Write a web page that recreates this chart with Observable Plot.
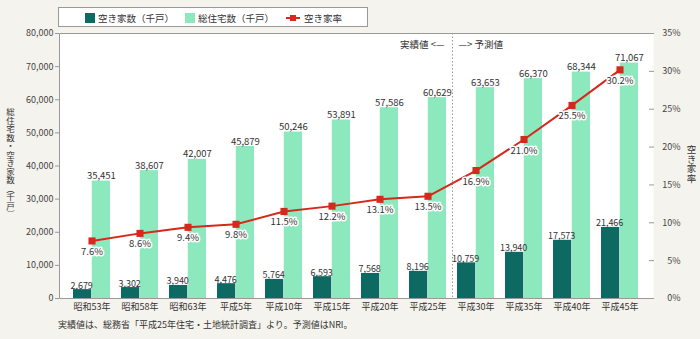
<!DOCTYPE html>
<html>
<head>
<meta charset="utf-8">
<script src="https://cdn.jsdelivr.net/npm/d3@7"></script>
<script src="https://cdn.jsdelivr.net/npm/@observablehq/plot@0.6"></script>
<style>
  html, body { margin: 0; padding: 0; background: #f5f3ed; }
  #wrap { position: relative; width: 700px; height: 339px; background: #f5f3ed; font-family: "Noto Sans CJK JP", sans-serif; color: #333; overflow: hidden; }
  #chart { position: absolute; left: 0; top: 0; }
  #legend { position: absolute; left: 58px; top: 7px; width: 310px; height: 20px; background: #fff; border: 1px solid #999; box-sizing: border-box; font-size: 9.5px; }
  .li { position: absolute; top: 3px; display: flex; align-items: center; height: 13px; white-space: nowrap; }
  .sw { width: 10px; height: 10px; margin-right: 3px; }
  .ln { position: relative; width: 14px; height: 10px; margin-right: 4px; }
  .ln .bar { position: absolute; left: 0; top: 4px; width: 14px; height: 2px; background: #d6281b; }
  .ln .sq { position: absolute; left: 4px; top: 2px; width: 6px; height: 6px; background: #d6281b; }
  .vlab { position: absolute; writing-mode: vertical-rl; text-orientation: mixed; white-space: nowrap; color: #333; line-height: 1; }
  #caption { position: absolute; left: 58px; top: 318px; font-size: 9px; white-space: nowrap; color: #333; }
</style>
</head>
<body>
<div id="wrap">
  <div id="chart"></div>
  <div id="legend"></div>
  <div class="vlab" id="ylabL" style="left:6px; top:108px; font-size:8.5px;"></div>
  <div class="vlab" id="ylabR" style="left:686px; top:145px; font-size:9.5px;"></div>
  <div id="caption"></div>
</div>
<script>
// ---- data ----
const years = ["昭和53年","昭和58年","昭和63年","平成5年","平成10年","平成15年","平成20年","平成25年","平成30年","平成35年","平成40年","平成45年"];
const vacant = [2679, 3302, 3940, 4476, 5764, 6593, 7568, 8196, 10759, 13940, 17573, 21466];
const total = [35451, 38607, 42007, 45879, 50246, 53891, 57586, 60629, 63653, 66370, 68344, 71067];
const rate = [7.6, 8.6, 9.4, 9.8, 11.5, 12.2, 13.1, 13.5, 16.9, 21.0, 25.5, 30.2];
const leftTicks = [0, 10000, 20000, 30000, 40000, 50000, 60000, 70000, 80000];
const rateTicks = [0, 5, 10, 15, 20, 25, 30, 35];
const seriesNames = ["空き家数（千戸）", "総住宅数（千戸）", "空き家率"];
const leftTitle = "総住宅数・空き家数（千戸）";
const rightTitle = "空き家率";
const actualText = "実績値 <—";
const forecastText = "—> 予測値";
const lastActual = "平成25年";
const firstForecast = "平成30年";
const captionText = "実績値は、総務省「平成25年住宅・土地統計調査」より。予測値はNRI。";

// ---- styles ----
const DARK = "#0c6a62", LIGHT = "#8ce8bd", RED = "#d6281b", AXIS = "#999";
const FONT = "Noto Sans CJK JP";
const yMax = 80000, rMax = 35;
const toY = r => r * yMax / rMax;

const rows = years.map((y, i) => ({year: y, vacant: vacant[i], total: total[i], rate: rate[i]}));

const W = 700, H = 339, mL = 59, mR = 47, mT = 33, mB = 41;
const pIn = 0.222, pOut = 0.27;
const step = (W - mL - mR) / (years.length - pIn + 2 * pOut);
const half = step * (1 - pIn) / 2;

function border(index, scales, values, dims) {
  const {marginLeft: l, marginTop: t, width: w, marginRight: r, height: h, marginBottom: b} = dims;
  return d3.create("svg:path")
    .attr("d", `M${w - r},${t + 0.5}H${l + 0.5}V${h - b + 0.5}H${w - r}`)
    .attr("fill", "none").attr("stroke", AXIS).attr("stroke-width", 1).node();
}

function divider(index, scales, values, dims) {
  const x = scales.x;
  const bw = x.bandwidth ? x.bandwidth() : 0;
  const xm = Math.round((x(lastActual) + bw + x(firstForecast)) / 2) + 0.5;
  const t = dims.marginTop, bt = dims.height - dims.marginBottom;
  const g = d3.create("svg:g");
  g.append("line").attr("x1", xm).attr("x2", xm).attr("y1", t).attr("y2", bt)
    .attr("stroke", "#999").attr("stroke-dasharray", "1.5,2");
  g.append("text").attr("x", xm - 8).attr("y", t + 12).attr("dy", "0.35em")
    .attr("text-anchor", "end").attr("font-size", 9.5).attr("fill", "#333").text(actualText);
  g.append("text").attr("x", xm + 6).attr("y", t + 12).attr("dy", "0.35em")
    .attr("text-anchor", "start").attr("font-size", 9.5).attr("fill", "#333").text(forecastText);
  return g.node();
}

const chart = Plot.plot({
  width: W, height: H,
  marginLeft: mL, marginRight: mR, marginTop: mT, marginBottom: mB,
  style: {fontFamily: FONT, fontSize: "9px", background: "transparent", color: "#444", overflow: "visible"},
  x: {type: "band", domain: years, paddingInner: pIn, paddingOuter: pOut, align: 0.5, axis: null},
  y: {domain: [0, yMax], axis: null},
  marks: [
    Plot.frame({fill: "white", stroke: null}),
    Plot.axisY(leftTicks, {anchor: "left", tickSize: 4, tickPadding: 2, tickFormat: d3.format(","), stroke: AXIS, fill: "#444", label: null}),
    Plot.axisY(rateTicks.map(toY), {anchor: "right", tickSize: -5, tickFormat: () => "", stroke: AXIS, label: null}),
    Plot.text(rateTicks, {y: d => toY(d), text: d => d + "%", frameAnchor: "right", dx: 27, textAnchor: "end", fill: "#444", fontSize: 9}),
    Plot.axisX({anchor: "bottom", tickSize: 0, tickPadding: 5, fill: "#333", fontSize: 9, label: null}),
    Plot.barY(rows, {x: "year", y: "total", fill: LIGHT, insetLeft: half}),
    Plot.barY(rows, {x: "year", y: "vacant", fill: DARK, insetRight: half}),
    Plot.text(rows, {x: "year", y: "vacant", text: d => d3.format(",")(d.vacant), dx: -half / 2 - 1, dy: -1, lineAnchor: "bottom", fill: "#333", fontSize: 9}),
    Plot.text(rows, {x: "year", y: "total", text: d => d3.format(",")(d.total), dx: half / 2, dy: -2, lineAnchor: "bottom", fill: "#333", fontSize: 9.5}),
    border,
    divider,
    Plot.line(rows, {x: "year", y: d => toY(d.rate), stroke: RED, strokeWidth: 2}),
    Plot.dot(rows, {x: "year", y: d => toY(d.rate), symbol: "square", r: 4, fill: RED, stroke: null}),
    Plot.text(rows, {x: "year", y: d => toY(d.rate), text: d => d.rate.toFixed(1) + "%", dy: 11, fill: "#333", stroke: "white", strokeWidth: 3, fontSize: 9.5})
  ]
});
document.getElementById("chart").appendChild(chart);

// ---- legend ----
const legend = document.getElementById("legend");
const items = [
  {name: seriesNames[0], left: 26, kind: "sw", color: DARK},
  {name: seriesNames[1], left: 126, kind: "sw", color: LIGHT},
  {name: seriesNames[2], left: 227, kind: "ln", color: RED}
];
items.forEach(it => {
  const d = document.createElement("div");
  d.className = "li";
  d.style.left = it.left + "px";
  const s = document.createElement("div");
  if (it.kind === "sw") {
    s.className = "sw"; s.style.background = it.color;
  } else {
    s.className = "ln";
    s.innerHTML = '<div class="bar"></div><div class="sq"></div>';
  }
  d.appendChild(s);
  const t = document.createElement("span");
  t.textContent = it.name;
  d.appendChild(t);
  legend.appendChild(d);
});

document.getElementById("ylabL").textContent = leftTitle;
document.getElementById("ylabR").textContent = rightTitle;
document.getElementById("caption").textContent = captionText;
</script>
</body>
</html>
